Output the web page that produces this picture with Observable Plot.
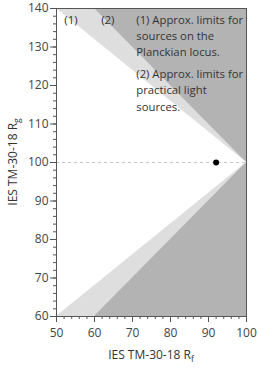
<!DOCTYPE html>
<html><head><meta charset="utf-8">
<script src="https://cdn.jsdelivr.net/npm/d3@7"></script>
<script src="https://cdn.jsdelivr.net/npm/@observablehq/plot@0.6"></script>
<style>body{margin:0;background:#fff;font-family:"Open Sans",sans-serif}</style>
</head><body><div id="chart"></div>
<script>
// Region boundaries (Rf -> lower/upper Rg)
const practicalRf = [50, 60, 100];
const practicalLow = [60, 60, 100];
const practicalHigh = [140, 140, 100];
const planckRf = [50, 100];
const planckLow = [60, 100];
const planckHigh = [140, 100];
// Point
const pointRf = [92];
const pointRg = [100];
// Ticks
const xTicks = [50, 60, 70, 80, 90, 100];
const yTicks = [60, 70, 80, 90, 100, 110, 120, 130, 140];
const xMinor = d3.range(50, 101, 2);
const yMinor = d3.range(60, 141, 2);
// Annotations
const markerLabels = ["(1)", "(2)"];
const markerRf = [53.8, 63.5];
const markerRg = [136.9, 136.9];
const notes = ["(1) Approx. limits for\nsources on the\nPlanckian locus.", "(2) Approx. limits for\npractical light\nsources."];
const notesRf = [71, 71];
const notesRg = [139, 124.8];

const practical = practicalRf.map((x, i) => ({x, y1: practicalLow[i], y2: practicalHigh[i]}));
const planck = planckRf.map((x, i) => ({x, y1: planckLow[i], y2: planckHigh[i]}));
const pts = pointRf.map((x, i) => ({x, y: pointRg[i]}));
const marks1 = markerLabels.map((t, i) => ({t, x: markerRf[i], y: markerRg[i]}));
const notesD = notes.map((t, i) => ({t, x: notesRf[i], y: notesRg[i]}));

const W = 257, H = 374;
const plot = Plot.plot({
  width: W, height: H,
  marginLeft: 56, marginRight: 11, marginTop: 8, marginBottom: 58,
  style: {fontFamily: "Open Sans", fontSize: "12px", color: "#444", background: "#fff"},
  x: {domain: [50, 100]},
  y: {domain: [60, 140]},
  marks: [
    Plot.frame({fill: "#b3b3b3", stroke: null}),
    Plot.areaY(practical, {x: "x", y1: "y1", y2: "y2", fill: "#dedede"}),
    Plot.areaY(planck, {x: "x", y1: "y1", y2: "y2", fill: "#ffffff"}),
    Plot.ruleY([100], {stroke: "#c4c4c4", strokeDasharray: "3,3", strokeWidth: 1}),
    Plot.dot(pts, {x: "x", y: "y", r: 3, fill: "#000", stroke: null}),
    Plot.text(marks1, {x: "x", y: "y", text: "t", fill: "#333", fontSize: 11.5}),
    Plot.text(notesD, {x: "x", y: "y", text: "t", fill: "#333", fontSize: 11.3, textAnchor: "start", lineAnchor: "top", lineHeight: 1.42}),
    Plot.axisY({ticks: yMinor, tickSize: 3, tickFormat: () => "", label: null, stroke: "#555"}),
    Plot.axisX({ticks: xMinor, tickSize: 3, tickFormat: () => "", label: null, stroke: "#555"}),
    Plot.axisY({ticks: yTicks, tickSize: 6, tickPadding: 2, label: null, stroke: "#555", fill: "#444", fontSize: 12}),
    Plot.axisX({ticks: xTicks, tickSize: 6, tickPadding: 6, label: null, stroke: "#555", fill: "#444", fontSize: 12}),
    Plot.frame({stroke: "#555", strokeWidth: 1})
  ]
});
document.getElementById("chart").appendChild(plot);

const svg = d3.select(plot);
const xl = svg.append("text").attr("x", (56 + W - 11) / 2).attr("y", 359)
  .attr("text-anchor", "middle").attr("fill", "#333").attr("font-size", 12).attr("font-family", "Open Sans");
xl.append("tspan").text("IES TM-30-18 R");
xl.append("tspan").attr("font-size", 8.5).attr("dy", 3).text("f");
const yl = svg.append("text").attr("transform", `translate(17,${(8 + H - 58) / 2}) rotate(-90)`)
  .attr("text-anchor", "middle").attr("fill", "#333").attr("font-size", 12).attr("font-family", "Open Sans");
yl.append("tspan").text("IES TM-30-18 R");
yl.append("tspan").attr("font-size", 8.5).attr("dy", 3).text("g");
</script></body></html>
